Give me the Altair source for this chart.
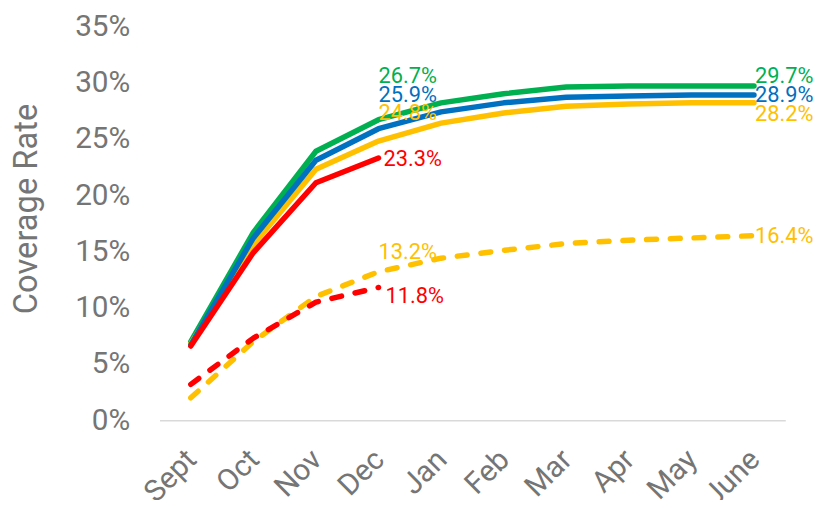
import altair as alt
import pandas as pd

months = ["Sept", "Oct", "Nov", "Dec", "Jan", "Feb", "Mar", "Apr", "May", "June"]
green = [7.0, 16.7, 23.9, 26.7, 28.2, 29.0, 29.6, 29.7, 29.7, 29.7]
blue = [6.7, 16.2, 23.1, 25.9, 27.4, 28.2, 28.7, 28.8, 28.9, 28.9]
yellow = [6.8, 15.6, 22.3, 24.8, 26.4, 27.3, 27.9, 28.1, 28.2, 28.2]
red = [6.6, 14.9, 21.1, 23.3]
yellow_dash = [2.0, 7.0, 11.0, 13.2, 14.4, 15.1, 15.7, 16.0, 16.2, 16.4]
red_dash = [3.2, 7.3, 10.5, 11.8]

GREEN, BLUE, YELLOW, RED = "#00B050", "#0070C0", "#FFC000", "#FF0000"
GRAY = "#757575"
FONT = "Roboto"

x_enc = alt.X("month:O", sort=months, scale=alt.Scale(domain=months),
              axis=alt.Axis(title=None, labelAngle=-45, labelFontSize=30, labelColor=GRAY,
                            labelFont=FONT, ticks=False, domainColor="#D9D9D9",
                            domainWidth=1.5, labelPadding=24, labelOffset=-10, grid=False))
y_enc = alt.Y("v:Q", scale=alt.Scale(domain=[0, 0.35], nice=False),
              axis=alt.Axis(title="Coverage Rate", format=".0%",
                            values=[0, 0.05, 0.1, 0.15, 0.2, 0.25, 0.3, 0.35],
                            labelFontSize=30, labelColor=GRAY, labelFont=FONT,
                            titleFontSize=33, titleColor=GRAY, titleFont=FONT,
                            titleFontWeight="normal", titlePadding=32, titleY=184,
                            domain=False, ticks=False, grid=False, labelPadding=30))


def df_of(vals):
    return pd.DataFrame({"month": months[:len(vals)], "v": [x / 100 for x in vals]})


def line(vals, color, dash=None):
    kw = dict(color=color, strokeWidth=5.5, strokeCap="round", strokeJoin="round")
    if dash:
        kw["strokeDash"] = dash
    return alt.Chart(df_of(vals)).mark_line(**kw).encode(x=x_enc, y=y_enc)


def label(vals, idx, color, dx, dy):
    d = pd.DataFrame({"month": [months[idx]], "v": [vals[idx] / 100],
                      "t": [f"{vals[idx]:.1f}%"]})
    return alt.Chart(d).mark_text(align="left", baseline="middle", dx=dx, dy=dy,
                                  fontSize=22, font=FONT, color=color).encode(
        x=x_enc, y=y_enc, text="t:N")


layers = [
    line(yellow_dash, YELLOW, [10, 14]),
    line(red_dash, RED, [10, 14]),
    line(green, GREEN),
    line(yellow, YELLOW),
    line(blue, BLUE),
    line(red, RED),
    label(green, 3, GREEN, 0, -44),
    label(blue, 3, BLUE, 0, -34),
    label(yellow, 3, YELLOW, 0, -28),
    label(red, 3, RED, 5, 1),
    label(yellow_dash, 3, YELLOW, 0, -20),
    label(red_dash, 3, RED, 7, 9),
    label(green, 9, GREEN, 1, -10),
    label(blue, 9, BLUE, 1, 0),
    label(yellow, 9, YELLOW, 1, 11),
    label(yellow_dash, 9, YELLOW, 1, 0),
]

chart = alt.layer(*layers).properties(
    width=632, height=398,
    autosize=alt.AutoSizeParams(type="none"),
    padding={"left": 153, "top": 16, "right": 30, "bottom": 78},
).configure_view(stroke=None)

chart.save("out.html", embed_options={"renderer": "svg", "actions": False})
